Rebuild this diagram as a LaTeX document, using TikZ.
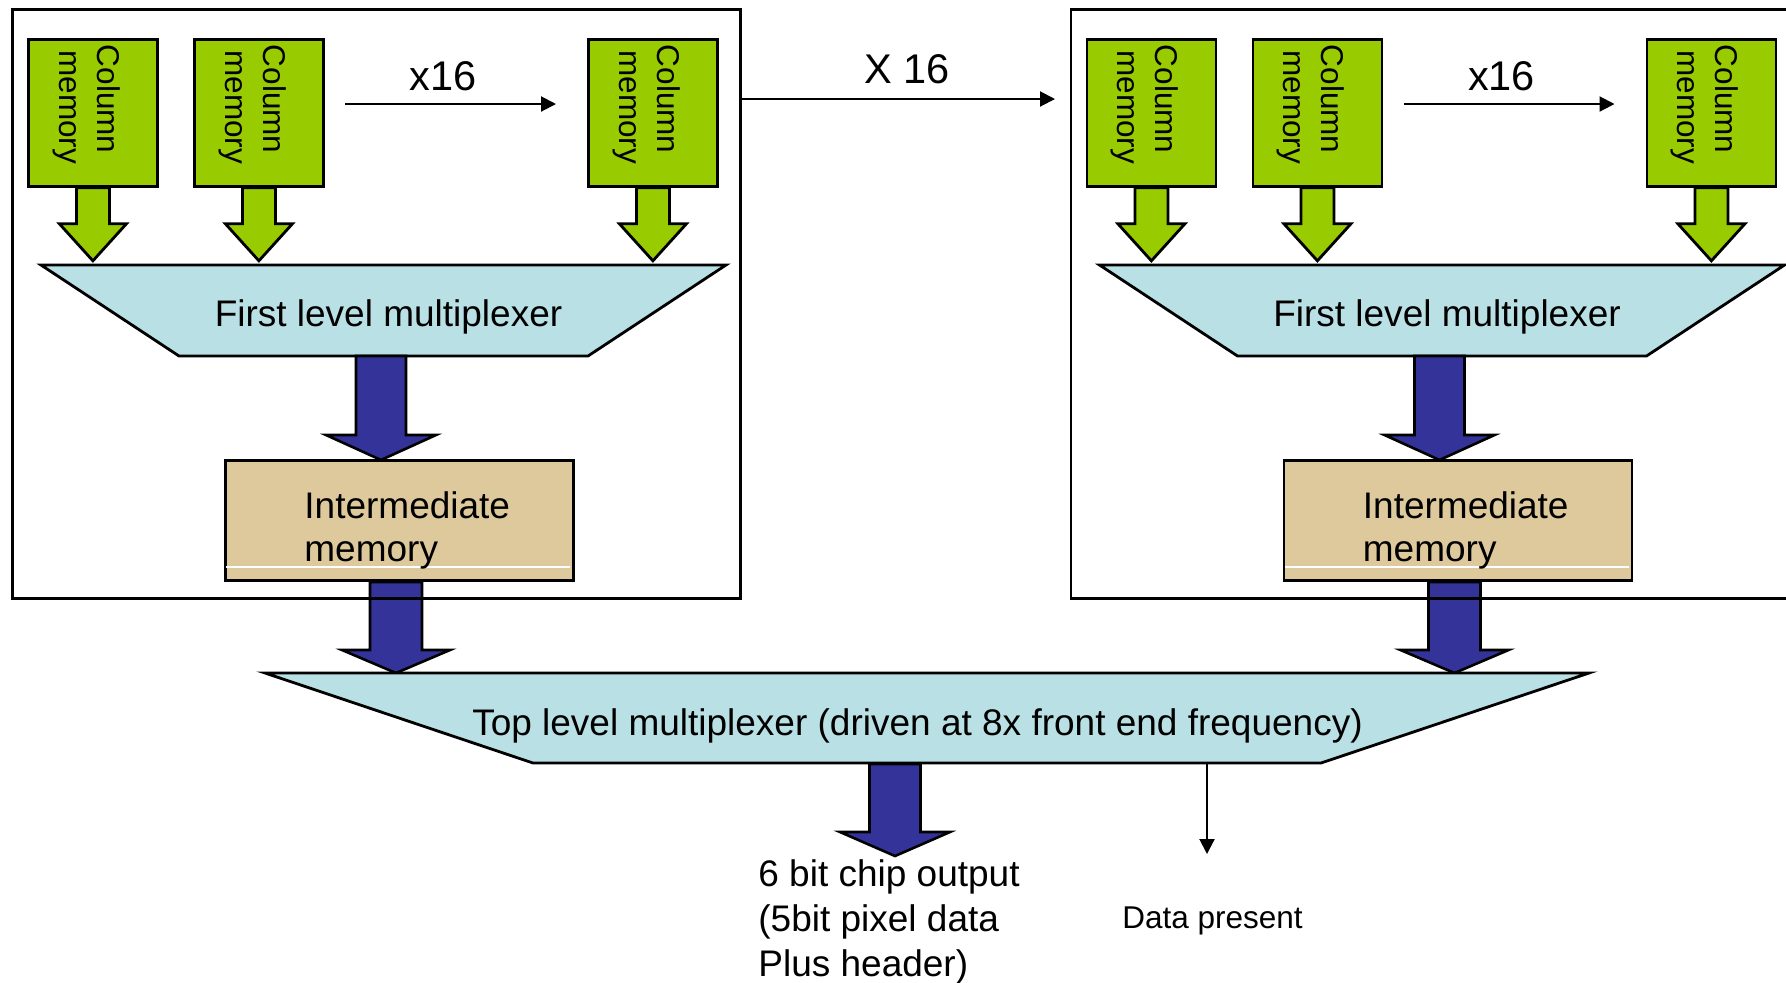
\documentclass[tikz,border=0pt]{standalone}
\usepackage{fontspec}
\setmainfont{Liberation Sans}
\usetikzlibrary{arrows.meta}
\definecolor{cgreen}{RGB}{153,204,0}
\definecolor{cmux}{RGB}{185,224,228}
\definecolor{ctan}{RGB}{221,201,155}
\definecolor{cblue}{RGB}{51,51,153}
\newcommand\szMain{\fontsize{18.5pt}{22pt}\selectfont}
\newcommand\szLab{\fontsize{20.75pt}{24pt}\selectfont}
\newcommand\szSmall{\fontsize{15.75pt}{19pt}\selectfont}
% #1 style, #2 start (top centre), #3 stem length, #4 head length, #5 stem half width, #6 head half width
\newcommand\blockarrow[6]{%
  \draw[#1] (#2) ++(-#5,0) -- ++(0,#3) -- ++({#5-#6},0) -- ++(#6,#4) -- ++(#6,-#4) -- ++({#5-#6},0) -- ++(0,-#3) -- cycle;}
\tikzset{
  mybox/.style={draw=black, line width=1.4pt, inner sep=0pt, anchor=north west},
  colbox/.style={mybox, fill=cgreen, minimum width=64.5pt, minimum height=73.5pt},
  imbox/.style={mybox, fill=ctan, minimum width=174pt, minimum height=60pt},
  outerframe/.style={draw=black, line width=1.3pt, inner sep=0pt, anchor=north west,
    minimum width=364pt, minimum height=294.5pt},
  greenarrow/.style={draw=black, line width=1.4pt, fill=cgreen, line join=miter},
  bluearrow/.style={draw=black, line width=1.3pt, fill=cblue, line join=miter},
  muxshape/.style={draw=black, line width=1.4pt, fill=cmux, line join=miter},
  lbl/.style={inner sep=0pt, text=black},
  coltext/.style={lbl, font=\szSmall, rotate=-90, anchor=base west},
  conn/.style={draw=black, line width=1pt, -{Triangle[length=7.5pt,width=7.5pt]}},
}
\begin{document}
\begin{tikzpicture}[x=0.5pt, y=-0.5pt]
\useasboundingbox (0,0) rectangle (1786,982);
\clip (0,0) rectangle (1786,982);
\fill[white] (0,0) rectangle (1786,982);

% two identical modules
\foreach \off/\k in {0/L,1058.5/R}{
\begin{scope}[shift={(\off,0)}]
  % column memories with green arrows
  \foreach \bx/\j in {27/1,193/2,587/3}{
    \node[colbox] (col\k\j) at (\bx,38) {};
    \node[coltext] at ({\bx+70},44.5) {Column};
    \node[coltext] at ({\bx+32},50) {memory};
    \blockarrow{greenarrow}{col\k\j.south}{36}{37}{16.5}{33.5}
  }
  % x16 arrow
  \coordinate (xa\k) at (345,104);
  \coordinate (xb\k) at (556,104);
  \draw[conn] (xa\k) -- (xb\k);
  \node[lbl, font=\szLab, anchor=base] (x16\k) at (443,90) {x16};
  % first level multiplexer
  \draw[muxshape] (41,265) -- (726,265) -- (588,356) -- (179,356) -- cycle;
  \node[lbl, font=\szMain, anchor=base] (fm\k) at (388.5,326) {First level multiplexer};
  \coordinate (fmo\k) at (381,356);
  \blockarrow{bluearrow}{fmo\k}{79}{25}{25}{55}
  % intermediate memory
  \node[imbox] (im\k) at (224,459) {};
  \draw[white, line width=0.8pt] (226,567) -- (570,567);
  \node[lbl, font=\szMain, anchor=base west] at (304,518) {Intermediate};
  \node[lbl, font=\szMain, anchor=base west] at (304,561) {memory};
  \coordinate (imo\k) at (396,582);
  \blockarrow{bluearrow}{imo\k}{68}{23}{26}{54}
\end{scope}}

% outer frames (drawn over the arrows)
\node[outerframe] (frL) at (11,8) {};
\node[outerframe] (frR) at (1069.5,8) {};

% X 16 between modules
\coordinate (xrow) at (0,99);
\coordinate (xtip) at (1055,99);
\draw[conn] (frL.east |- xrow) -- (xtip);
\node[lbl, font=\szLab, anchor=base] (x16m) at (907,83) {X 16};

% top level multiplexer
\draw[muxshape] (265,673) -- (1589,673) -- (1321,763) -- (533,763) -- cycle;
\node[lbl, font=\szMain, anchor=base] (tm) at (917.5,735) {Top level multiplexer (driven at 8x front end frequency)};

% output arrow
\coordinate (outo) at (895,764);
\blockarrow{bluearrow}{outo}{68}{24}{25.5}{55}
\node[lbl, font=\szMain, anchor=base west] (o1) at (758,886) {6 bit chip output};
\node[lbl, font=\szMain, anchor=base west] (o2) at (758,931) {(5bit pixel data};
\node[lbl, font=\szMain, anchor=base west] (o3) at (758,976) {Plus header)};

% data present
\coordinate (dp0) at (1207,764);
\coordinate (dp1) at (1207,854);
\draw[conn] (dp0) -- (dp1);
\node[lbl, font=\szSmall, anchor=base west] (dp) at (1122,928) {Data present};
\end{tikzpicture}
\end{document}
